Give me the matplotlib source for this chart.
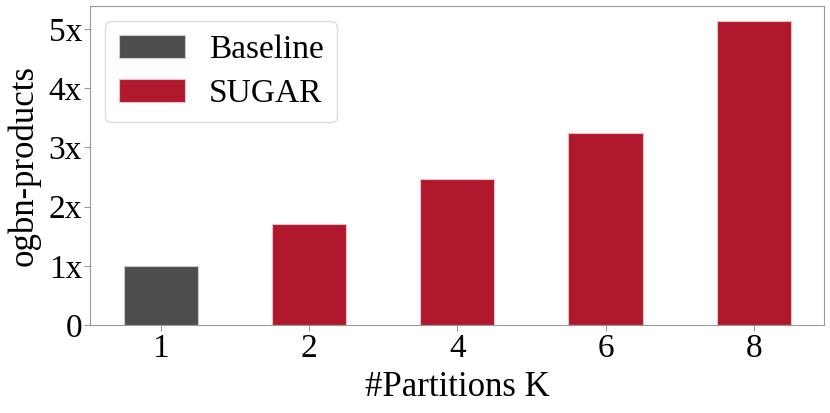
import matplotlib
matplotlib.use("Agg")
import matplotlib.pyplot as plt

plt.rcParams['font.family'] = ['Liberation Serif', 'DejaVu Serif']

partitions = ['1', '2', '4', '6', '8']
speedup = [1.0, 1.70, 2.46, 3.25, 5.13]
methods = ['Baseline', 'SUGAR', 'SUGAR', 'SUGAR', 'SUGAR']
colors = {'Baseline': '#4d4d4d', 'SUGAR': '#b0182d'}

fig, ax = plt.subplots(figsize=(8.3, 4.13), dpi=100)

seen = set()
for i, (p, v, m) in enumerate(zip(partitions, speedup, methods)):
    lab = m if m not in seen else None
    seen.add(m)
    ax.bar(i, v, width=0.5, color=colors[m], edgecolor='#e8c0c5' if m == 'SUGAR' else '#cccccc',
           linewidth=0.8, label=lab)

ax.set_xticks(range(len(partitions)))
ax.set_xticklabels(partitions)
ax.set_yticks([0, 1, 2, 3, 4, 5])
ax.set_yticklabels(['0', '1x', '2x', '3x', '4x', '5x'])
ax.tick_params(labelsize=24, color='#999999', length=4, pad=2)
ax.set_xlabel('#Partitions K', fontsize=25, labelpad=5)
ax.set_ylabel('ogbn-products', fontsize=25, labelpad=6)
for s in ax.spines.values():
    s.set_color('#999999')

ax.legend(loc='upper left', fontsize=24, handlelength=2.0, handleheight=0.7,
          borderpad=0.4, labelspacing=0.4, handletextpad=0.7, framealpha=1,
          edgecolor='#dddddd', borderaxespad=0.45)

plt.subplots_adjust(left=0.109, right=0.993, top=0.985, bottom=0.213)
plt.savefig('out.png')
